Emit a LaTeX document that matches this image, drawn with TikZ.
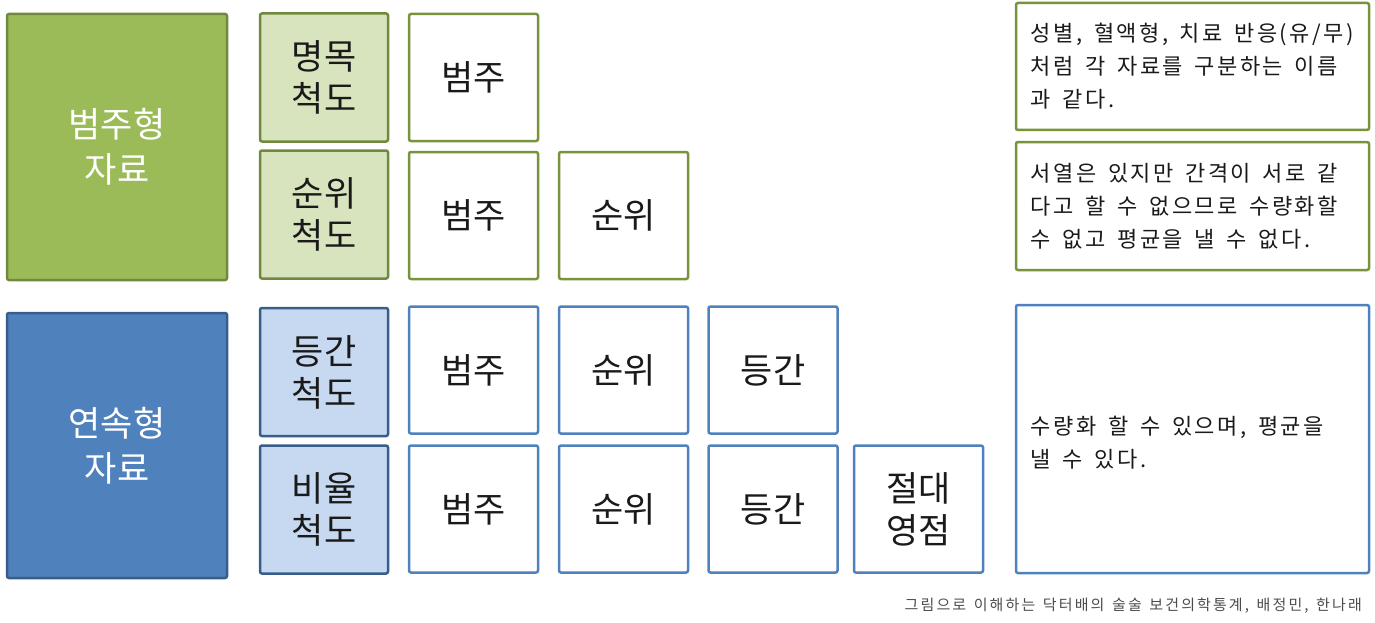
\documentclass[tikz,border=0pt]{standalone}
\usepackage{fontspec}
\setmainfont{Noto Sans CJK KR}
\newfontfamily\notefont[LetterSpace=11,WordSpace=1.6]{Noto Sans CJK KR}
\newfontfamily\capfont[LetterSpace=14,WordSpace=1.4]{Noto Sans CJK KR}
\definecolor{gfill}{HTML}{9BBB59}
\definecolor{gbd}{HTML}{71893F}
\definecolor{glight}{HTML}{D7E4BD}
\definecolor{gbd2}{HTML}{77933C}
\definecolor{bfill}{HTML}{4F81BD}
\definecolor{bbd}{HTML}{385D8A}
\definecolor{blight}{HTML}{C6D9F1}
\definecolor{txt}{HTML}{1A1A1A}
\tikzset{
  base/.style={line width=2.5pt, rounded corners=2pt, inner sep=0pt, align=center, text=txt,
    font=\fontsize{35}{42}\selectfont},
  bigg/.style={base, draw=gbd, fill=gfill, text=white, minimum width=220pt, minimum height=266pt,
    font=\fontsize{35}{45}\selectfont},
  bigb/.style={base, draw=bbd, fill=bfill, text=white, minimum width=220pt, minimum height=265pt,
    font=\fontsize{35}{45}\selectfont},
  scaleg/.style={base, draw=gbd, fill=glight, minimum width=128pt, minimum height=128pt},
  scaleb/.style={base, draw=bbd, fill=blight, minimum width=128pt, minimum height=128pt},
  cellg/.style={base, draw=gbd2, fill=white, minimum width=129pt, minimum height=127pt},
  cellb/.style={base, draw=bfill, fill=white, minimum width=129pt, minimum height=127pt},
  notebox/.style={line width=2.5pt, rounded corners=2pt, fill=white, minimum width=353pt},
  notetext/.style={inner sep=0pt, align=left, text=txt, anchor=west,
    font=\notefont\fontsize{22}{33}\selectfont},
}
\begin{document}
\begin{tikzpicture}[x=1pt, y=-1pt]
\useasboundingbox (0,0) rectangle (1375,623);
% categorical
\node[bigg] (cat) at (117,147) {범주형\\자료};
\node[scaleg] (nom) at (324,77.5) {명목\\척도};
\node[scaleg] (ord) at (324,214.5) {순위\\척도};
\node[cellg] (n1) at (473.5,77.5) {범주};
\node[cellg] (o1) at (473.5,215.5) {범주};
\node[cellg] (o2) at (623.5,215.5) {순위};
% continuous
\node[bigb] (con) at (117,445.5) {연속형\\자료};
\node[scaleb] (intv) at (324,372) {등간\\척도};
\node[scaleb] (rat) at (324,509.5) {비율\\척도};
\node[cellb] (i1) at (473.5,370) {범주};
\node[cellb] (i2) at (623.5,370) {순위};
\node[cellb] (i3) at (773,370) {등간};
\node[cellb] (r1) at (473.5,509) {범주};
\node[cellb] (r2) at (623.5,509) {순위};
\node[cellb] (r3) at (773,509) {등간};
\node[cellb] (r4) at (918.5,509) {절대\\영점};
% notes
\node[notebox, draw=gbd2, minimum height=127pt] (t1) at (1192.5,66.5) {};
\node[notetext] (t1txt) at ([xshift=16pt]t1.west) {성별, 혈액형, 치료 반응(유/무)\\처럼 각 자료를 구분하는 이름\\과 같다.};
\node[notebox, draw=gbd2, minimum height=128pt] (t2) at (1192.5,206) {};
\node[notetext] (t2txt) at ([xshift=16pt]t2.west) {서열은 있지만 간격이 서로 같\\다고 할 수 없으므로 수량화할\\수 없고 평균을 낼 수 없다.};
\node[notebox, draw=bfill, minimum height=268pt] (t3) at (1192.5,439) {};
\node[notetext] (t3txt) at ([xshift=16pt,yshift=-4pt]t3.west) {수량화 할 수 있으며, 평균을\\낼 수 있다.};
% caption
\node[anchor=east, inner sep=0pt, text=black!70, font=\capfont\fontsize{15}{16}\selectfont] (cap) at (1362,606) {그림으로 이해하는 닥터배의 술술 보건의학통계, 배정민, 한나래};
\end{tikzpicture}
\end{document}
